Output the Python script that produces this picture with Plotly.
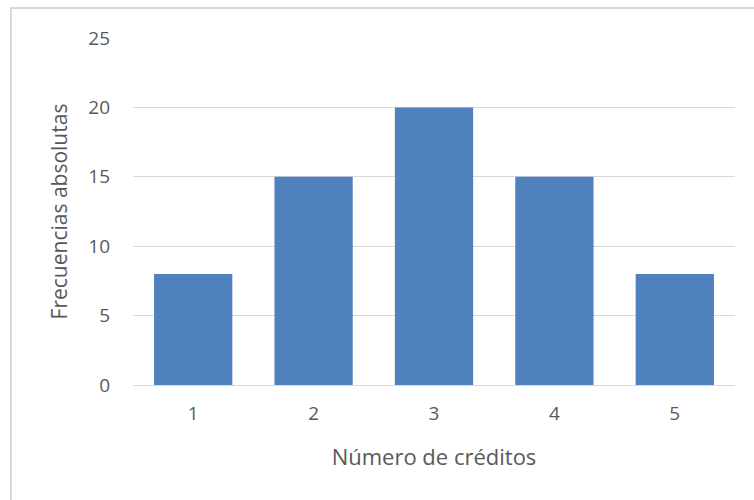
import plotly.graph_objects as go

categories = ["1", "2", "3", "4", "5"]
frequencies = [8, 15, 20, 15, 8]
y_ticks = [0, 5, 10, 15, 20, 25]

L, R, T, B = 133, 19, 38, 115
W, H = 754, 500
pw, ph = W - L - R, H - T - B

def px(x):
    return (x - L) / pw

def py(y):
    return (H - B - y) / ph

fig = go.Figure(go.Bar(
    x=categories, y=frequencies,
    marker=dict(color="#4F81BD", line=dict(width=0)),
))

font = "'Open Sans', sans-serif"
fig.update_layout(
    width=W, height=H,
    margin=dict(l=L, r=R, t=T, b=B),
    paper_bgcolor="white", plot_bgcolor="white",
    bargap=0.35,
    showlegend=False,
    font=dict(family=font, color="#595959", size=18),
    xaxis=dict(
        type="category",
        showgrid=False,
        showline=True, linecolor="#D9D9D9", linewidth=1,
        ticks="", ticklabelstandoff=11,
        tickfont=dict(size=19, color="#595959"),
        title=dict(text="Número de créditos", font=dict(size=22, color="#595959"), standoff=24),
    ),
    yaxis=dict(
        range=[0, 25], tickvals=y_ticks,
        showgrid=True, gridcolor="#D9D9D9", gridwidth=1,
        zeroline=False, showline=False,
        ticks="", ticklabelstandoff=22,
        tickfont=dict(size=19, color="#595959"),
        title=dict(text="Frecuencias absolutas", font=dict(size=21, color="#595959"), standoff=14),
    ),
    shapes=[
        dict(type="line", xref="paper", yref="paper", x0=px(10), x1=px(754), y0=py(8), y1=py(8),
             line=dict(color="#D9D9D9", width=2)),
        dict(type="line", xref="paper", yref="paper", x0=px(11), x1=px(11), y0=py(8), y1=py(500),
             line=dict(color="#D9D9D9", width=2)),
    ],
)

fig.write_html("out.html")
